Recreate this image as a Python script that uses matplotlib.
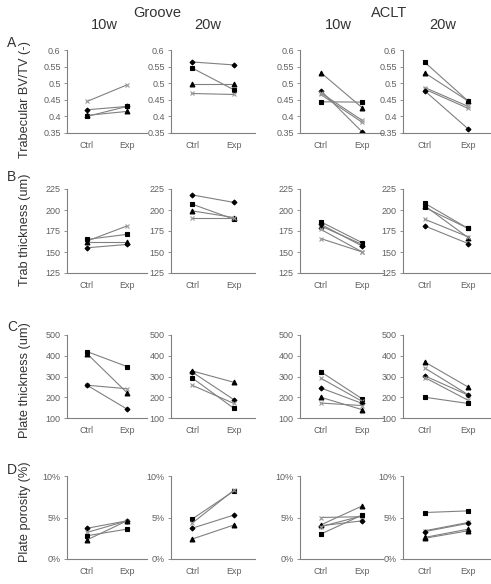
import numpy as np
import matplotlib
matplotlib.use('Agg')
import matplotlib.pyplot as plt
from matplotlib.ticker import FuncFormatter

plt.rcParams['font.family'] = ['Liberation Sans', 'DejaVu Sans']

W, H = 491, 584

groups = ['Ctrl', 'Exp']
row_labels = ['Trabecular BV/TV (-)', 'Trab thickness (um)', 'Plate thickness (um)', 'Plate porosity (%)']
row_letters = ['A', 'B', 'C', 'D']

# values per panel: (ctrl list, exp list), columns = Groove 10w, Groove 20w, ACLT 10w, ACLT 20w
bvtv_ctrl = [[0.445, 0.42, 0.40, 0.403], [0.564, 0.546, 0.498, 0.469],
             [0.532, 0.478, 0.471, 0.466, 0.444], [0.563, 0.531, 0.487, 0.482, 0.477]]
bvtv_exp = [[0.495, 0.43, 0.43, 0.415], [0.555, 0.48, 0.498, 0.466],
            [0.426, 0.353, 0.388, 0.382, 0.443], [0.446, 0.446, 0.430, 0.424, 0.362]]

trab_ctrl = [[163, 165, 162, 155], [218, 207, 199, 191],
             [186, 183, 181, 177, 166], [208, 205, 203, 189, 181]]
trab_exp = [[181, 171, 162, 159], [209, 189, 191, 191],
            [161, 157, 159, 150, 150], [178, 167, 178, 168, 160]]

plate_ctrl = [[420, 410, 258, 258], [327, 322, 294, 258],
              [323, 292, 245, 200, 172], [370, 341, 303, 295, 200]]
plate_exp = [[348, 222, 241, 143], [272, 188, 146, 170],
             [192, 180, 170, 140, 160], [249, 212, 210, 185, 170]]

poro_ctrl = [[3.7, 3.2, 2.8, 2.3], [4.8, 4.3, 3.7, 2.4],
             [5.0, 4.1, 4.0, 3.9, 3.0], [5.6, 3.4, 3.3, 2.6, 2.5]]
poro_exp = [[4.6, 4.6, 3.6, 4.6], [8.2, 8.3, 5.3, 4.1],
            [5.1, 6.4, 4.6, 5.2, 5.3], [5.8, 4.4, 4.3, 3.6, 3.4]]

# marker per series (style)
markers = [[['x', 'D', 's', '^'], ['D', 's', '^', 'x'], ['^', 'D', 'x', 'x', 's'], ['s', '^', 'x', 'x', 'D']],
           [['x', 's', '^', 'D'], ['D', 's', '^', 'x'], ['s', 'D', '^', 'x', 'x'], ['s', '^', 's', 'x', 'D']],
           [['s', '^', 'x', 'D'], ['^', 'D', 's', 'x'], ['s', 'x', 'D', '^', 'x'], ['^', 'x', 'D', 'x', 's']],
           [['D', 'x', 's', '^'], ['s', 'x', 'D', '^'], ['x', '^', 'D', 'x', 's'], ['s', 'x', 'D', '^', '^']]]

data = [(bvtv_ctrl, bvtv_exp), (trab_ctrl, trab_exp), (plate_ctrl, plate_exp), (poro_ctrl, poro_exp)]
ylims = [(0.35, 0.6), (125, 225), (100, 500), (0, 10)]
ysteps = [0.05, 25, 100, 5]

col_x = [(67, 147), (171, 255), (300, 383), (403, 490)]
row_y = [(50, 133), (189, 273), (335, 418), (476, 559)]

fig = plt.figure(figsize=(W / 100, H / 100), dpi=100)

grey = '#808080'
tcol = '#606060'

def fmt_bvtv(v, p):
    return ('%.2f' % v).rstrip('0').rstrip('.')

formatters = [FuncFormatter(fmt_bvtv), FuncFormatter(lambda v, p: '%d' % v),
              FuncFormatter(lambda v, p: '%d' % v), FuncFormatter(lambda v, p: '%d%%' % v)]

for r in range(4):
    for c in range(4):
        x0, x1 = col_x[c]
        y0, y1 = row_y[r]
        ax = fig.add_axes([x0 / W, 1 - y1 / H, (x1 - x0) / W, (y1 - y0) / H])
        ctrl, exp = data[r][0][c], data[r][1][c]
        for i in range(len(ctrl)):
            m = markers[r][c][i]
            ms = 3.5 if m in ('s', '^') else 2.5
            mc = '#999999' if m == 'x' else 'black'
            ax.plot([0.5, 1.5], [ctrl[i], exp[i]], color=grey, lw=0.8,
                    marker=m, ms=ms, mfc=mc, mec=mc, mew=0.8)
        ax.set_xlim(0, 2)
        lo, hi = ylims[r]
        ax.set_ylim(lo, hi)
        ax.set_yticks(np.arange(lo, hi + ysteps[r] / 2, ysteps[r]))
        ax.yaxis.set_major_formatter(formatters[r])
        ax.set_xticks([0.5, 1.5])
        ax.set_xticklabels(groups)
        for s in ['top', 'right']:
            ax.spines[s].set_visible(False)
        for s in ['left', 'bottom']:
            ax.spines[s].set_color(grey)
            ax.spines[s].set_linewidth(0.8)
        ax.tick_params(axis='y', length=2.5, width=0.6, color=grey, labelsize=6.5,
                       labelcolor=tcol, pad=2)
        ax.tick_params(axis='x', length=0, labelsize=6.5, labelcolor=tcol, pad=6)
        ax.patch.set_visible(False)

# row labels
label_y = [100, 230, 380, 512]
letter_y = [43, 177, 327, 470]
for r in range(4):
    fig.text(25 / W, 1 - label_y[r] / H, row_labels[r], rotation=90, ha='center',
             va='center', fontsize=9.2, color='#333333')
    fig.text(12 / W, 1 - letter_y[r] / H, row_letters[r], ha='center', va='center',
             fontsize=10, color='#333333')

# column headers
fig.text(157 / W, 1 - 13 / H, 'Groove', ha='center', va='center', fontsize=10.5, color='#333333')
fig.text(389 / W, 1 - 13 / H, 'ACLT', ha='center', va='center', fontsize=10.5, color='#333333')
for xc, t in zip([104, 208, 338, 443], ['10w', '20w', '10w', '20w']):
    fig.text(xc / W, 1 - 25 / H, t, ha='center', va='center', fontsize=10.5, color='#333333')

fig.savefig('out.png', dpi=100)
